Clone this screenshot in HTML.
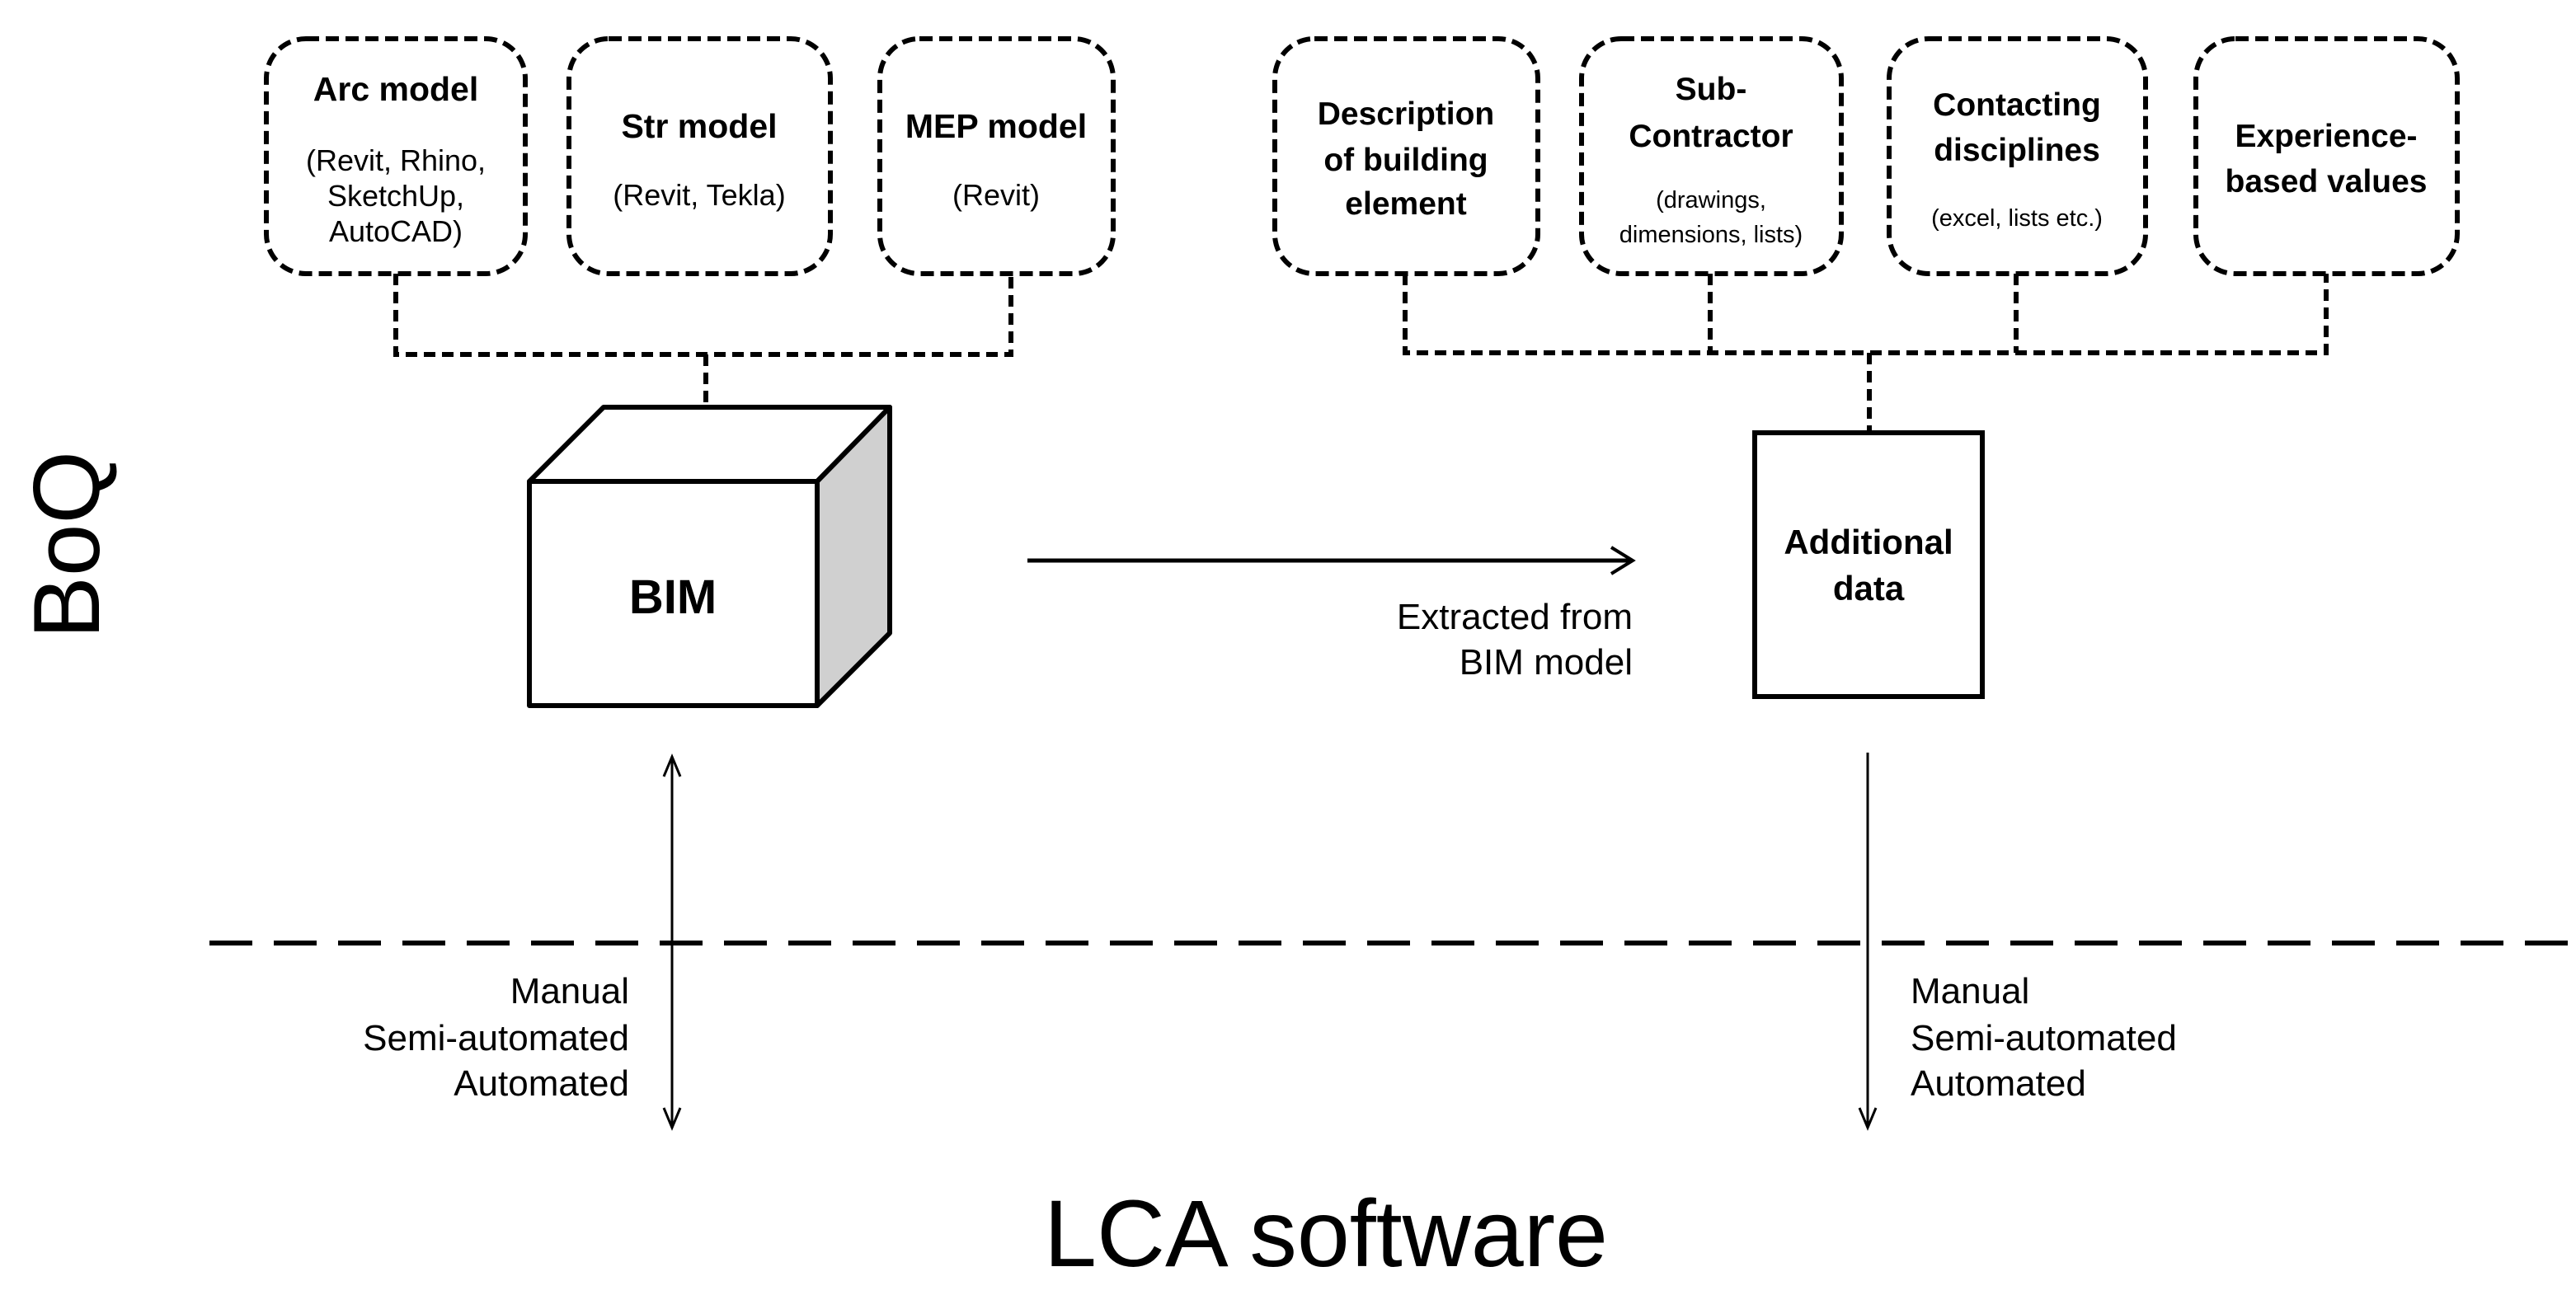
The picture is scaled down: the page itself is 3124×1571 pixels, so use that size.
<!DOCTYPE html>
<html><head><meta charset="utf-8"><style>
html,body{margin:0;padding:0;background:#fff;}
svg{display:block;}
text{font-family:"Liberation Sans",Arial,sans-serif;fill:#000;}
.b{font-weight:bold;}
</style></head><body>
<svg width="3124" height="1571" viewBox="0 0 3124 1571" xmlns="http://www.w3.org/2000/svg">
<defs>
<marker id="ah" markerWidth="40" markerHeight="40" refX="30" refY="20" orient="auto" markerUnits="userSpaceOnUse">
<path d="M4,4 L30,20 L4,36" fill="none" stroke="#000" stroke-width="4"/>
</marker>
<marker id="ah2" markerWidth="40" markerHeight="40" refX="30" refY="20" orient="auto-start-reverse" markerUnits="userSpaceOnUse">
<path d="M6,10 L30,20 L6,30" fill="none" stroke="#000" stroke-width="3"/>
</marker>
</defs>
<g fill="#fff" stroke="#000" stroke-width="6" stroke-dasharray="16 8">
<rect x="323" y="47" width="314" height="285" rx="48"/>
<rect x="690" y="47" width="317" height="285" rx="48"/>
<rect x="1067" y="47" width="283" height="285" rx="48"/>
<rect x="1546" y="47" width="319" height="285" rx="48"/>
<rect x="1918" y="47" width="315" height="285" rx="48"/>
<rect x="2291" y="47" width="311" height="285" rx="48"/>
<rect x="2663" y="47" width="317" height="285" rx="48"/>
</g>
<g fill="none" stroke="#000" stroke-width="6" stroke-dasharray="14 8">
<path d="M480,332 V430 H1226 V332"/>
<path d="M856,430 V524"/>
<path d="M1704,332 V428 H2821 V332"/>
<path d="M2074,332 V428"/>
<path d="M2445,332 V428"/>
<path d="M2267,428 V522"/>
</g>
<g stroke="#000" stroke-width="6" stroke-linejoin="round">
<polygon points="642,584 732,494 1079,494 991,584" fill="#fff"/>
<polygon points="991,584 1079,494 1079,768 991,856" fill="#d0d0d0"/>
<rect x="642" y="584" width="349" height="272" fill="#fff"/>
</g>
<text class="b" x="816" y="744" font-size="58" text-anchor="middle">BIM</text>
<rect x="2128" y="525" width="276" height="320" fill="#fff" stroke="#000" stroke-width="6"/>
<text class="b" x="2266" y="672" font-size="42" text-anchor="middle">Additional</text>
<text class="b" x="2266" y="728" font-size="42" text-anchor="middle">data</text>
<line x1="1246" y1="680" x2="1980" y2="680" stroke="#000" stroke-width="5" marker-end="url(#ah)"/>
<text x="1980" y="763" font-size="44" text-anchor="end">Extracted from</text>
<text x="1980" y="818" font-size="44" text-anchor="end">BIM model</text>
<line x1="254" y1="1144" x2="3124" y2="1144" stroke="#000" stroke-width="6" stroke-dasharray="52 26"/>
<line x1="815" y1="918" x2="815" y2="1368" stroke="#000" stroke-width="3" marker-start="url(#ah2)" marker-end="url(#ah2)"/>
<line x1="2265" y1="913" x2="2265" y2="1368" stroke="#000" stroke-width="3" marker-end="url(#ah2)"/>
<g font-size="44">
<text x="763" y="1217" text-anchor="end">Manual</text>
<text x="763" y="1274" text-anchor="end">Semi-automated</text>
<text x="763" y="1329" text-anchor="end">Automated</text>
<text x="2317" y="1217">Manual</text>
<text x="2317" y="1274">Semi-automated</text>
<text x="2317" y="1329">Automated</text>
</g>
<text x="1608" y="1536" font-size="115" text-anchor="middle">LCA software</text>
<text transform="translate(120,661) rotate(-90)" font-size="114" text-anchor="middle">BoQ</text>
<g text-anchor="middle">
<text class="b" x="480" y="122" font-size="41">Arc model</text>
<text x="480" y="207" font-size="36">(Revit, Rhino,</text>
<text x="480" y="250" font-size="36">SketchUp,</text>
<text x="480" y="293" font-size="36">AutoCAD)</text>
<text class="b" x="848" y="167" font-size="41">Str model</text>
<text x="848" y="249" font-size="36">(Revit, Tekla)</text>
<text class="b" x="1208" y="167" font-size="41">MEP model</text>
<text x="1208" y="249" font-size="36">(Revit)</text>
<text class="b" x="1705" y="151" font-size="39">Description</text>
<text class="b" x="1705" y="207" font-size="39">of building</text>
<text class="b" x="1705" y="260" font-size="39">element</text>
<text class="b" x="2075" y="121" font-size="39">Sub-</text>
<text class="b" x="2075" y="178" font-size="39">Contractor</text>
<text x="2075" y="252" font-size="29">(drawings,</text>
<text x="2075" y="294" font-size="29">dimensions, lists)</text>
<text class="b" x="2446" y="140" font-size="39">Contacting</text>
<text class="b" x="2446" y="195" font-size="39">disciplines</text>
<text x="2446" y="274" font-size="29">(excel, lists etc.)</text>
<text class="b" x="2821" y="178" font-size="39">Experience-</text>
<text class="b" x="2821" y="233" font-size="39">based values</text>
</g>
</svg>
</body></html>
